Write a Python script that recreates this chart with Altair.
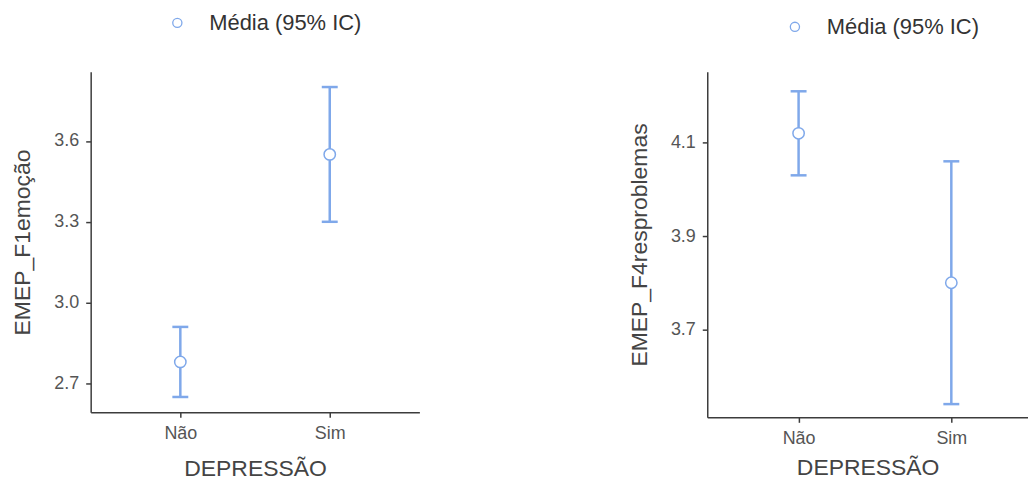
import altair as alt
import pandas as pd

categories = ["Não", "Sim"]
series_label = "Média (95% IC)"
x_title = "DEPRESSÃO"

f1_title = "EMEP_F1emoção"
f1_mean = [2.78, 3.55]
f1_low = [2.65, 3.30]
f1_high = [2.91, 3.80]
f1_ticks = [2.7, 3.0, 3.3, 3.6]
f1_domain = [2.593, 3.857]

f4_title = "EMEP_F4resproblemas"
f4_mean = [4.12, 3.80]
f4_low = [4.03, 3.54]
f4_high = [4.21, 4.06]
f4_ticks = [3.7, 3.9, 4.1]
f4_domain = [3.5117, 4.252]

BLUE = "#7fa8ea"
LEG_BLUE = "#9dbcf0"
FONT = "Liberation Sans"


def panel(ytitle, mean, low, high, ydomain, yticks, w, h, xpad, xalign, lx, ly, xtp):
    df = pd.DataFrame({
        "grupo": categories,
        "media": mean,
        "inf": low,
        "sup": high,
        "serie": [series_label] * len(categories),
    })
    xenc = alt.X(
        "grupo:N",
        sort=categories,
        scale=alt.Scale(type="point", domain=categories, padding=xpad, align=xalign),
        axis=alt.Axis(title=x_title, labelAngle=0, titlePadding=xtp),
    )
    yscale = alt.Scale(domain=ydomain, zero=False, nice=False)
    yaxis = alt.Axis(title=ytitle, values=yticks, format=".1f")

    def Y(field):
        return alt.Y(field, type="quantitative", scale=yscale, axis=yaxis)

    base = alt.Chart(df).encode(x=xenc)
    bar = base.mark_rule(color=BLUE, strokeWidth=2.5).encode(y=Y("inf"), y2="sup")
    cap_lo = base.mark_tick(color=BLUE, thickness=2.5, size=16, orient="horizontal", opacity=1).encode(y=Y("inf"))
    cap_hi = base.mark_tick(color=BLUE, thickness=2.5, size=16, orient="horizontal", opacity=1).encode(y=Y("sup"))
    pts = base.mark_point(
        shape="circle", filled=False, fill="white", fillOpacity=1,
        strokeWidth=1.5, size=130, opacity=1,
    ).encode(
        y=Y("media"),
        stroke=alt.Stroke(
            "serie:N",
            scale=alt.Scale(domain=[series_label], range=[BLUE]),
            legend=alt.Legend(
                title=None, orient="none", legendX=lx, legendY=ly, padding=0,
                labelFontSize=22, labelColor="#333333", labelFont=FONT,
                symbolSize=85, symbolStrokeWidth=1.3, labelOffset=21,
                symbolType="circle", symbolStrokeColor=LEG_BLUE,
            ),
        ),
    )
    return alt.layer(bar, cap_lo, cap_hi, pts).properties(width=w, height=h)


left = panel(f1_title, f1_mean, f1_low, f1_high, f1_domain, f1_ticks,
             330, 342, 0.6, 0.5, 76, -60, 15)
right = panel(f4_title, f4_mean, f4_low, f4_high, f4_domain, f4_ticks,
              322, 347, 0.55, 0.5436, 77, -56, 9)

chart = (
    alt.hconcat(left, right, spacing=209)
    .resolve_scale(x="independent", y="independent", stroke="independent")
    .resolve_legend(stroke="independent")
    .properties(padding={"left": 3, "top": 3, "right": 0, "bottom": 0})
    .configure_view(stroke=None)
    .configure_axis(
        grid=False,
        domainColor="#3c3c3c", domainWidth=1.5,
        tickColor="#3c3c3c", tickSize=5, tickWidth=1.5,
        labelColor="#555555", labelFont=FONT, labelFontSize=18, labelPadding=7,
        titleFont=FONT, titleFontSize=23, titleFontWeight="normal",
        titleColor="#444444", titlePadding=19,
    )
)

chart.save("out.html", embed_options={"renderer": "svg", "actions": False})
